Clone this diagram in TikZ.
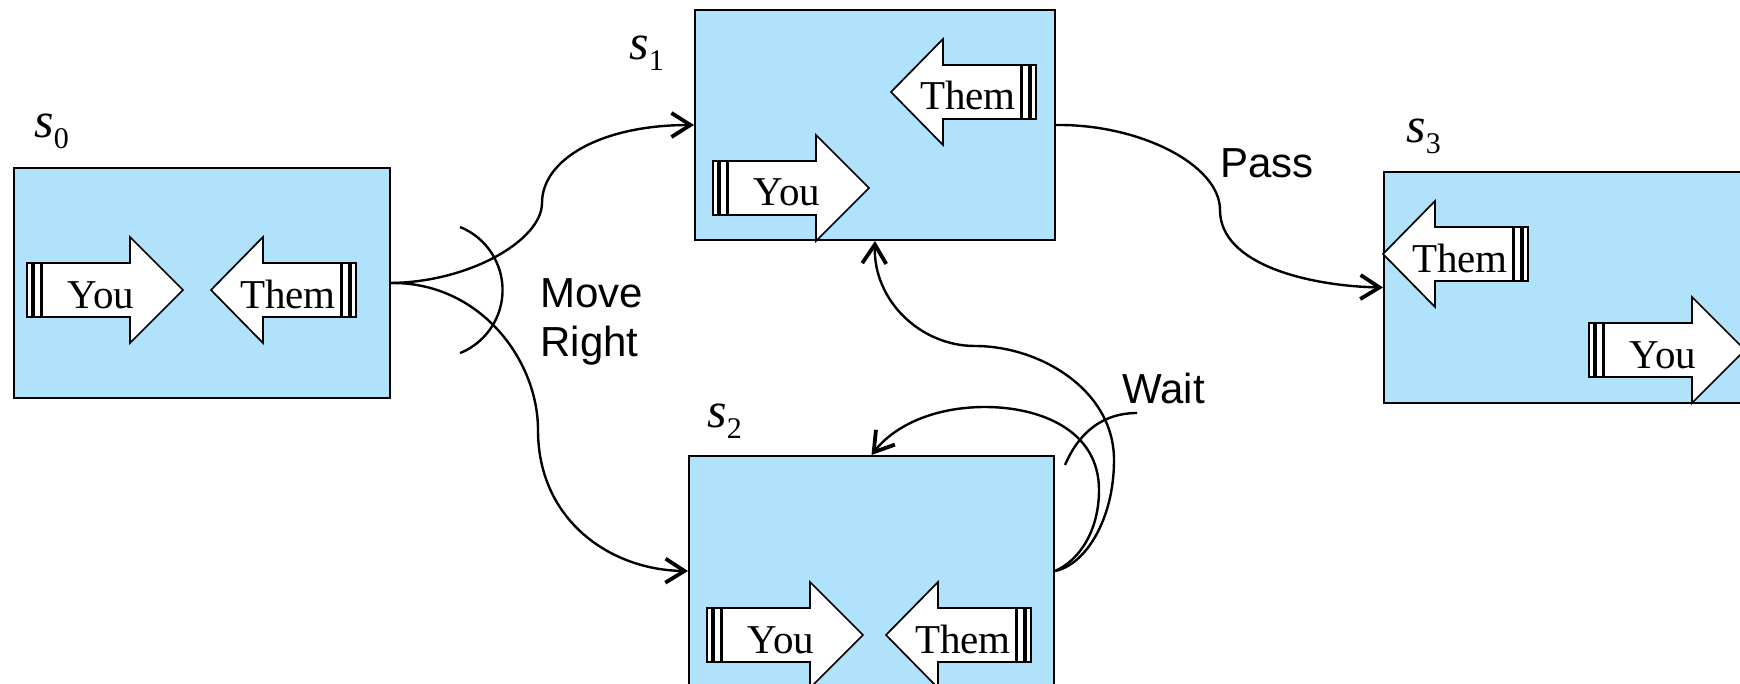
\documentclass[tikz,border=0pt]{standalone}
\usepackage{fontspec}
\setmainfont{Liberation Serif}
\setsansfont{Liberation Sans}
\usetikzlibrary{arrows.meta}

\definecolor{statefill}{RGB}{176,226,252}

\tikzset{
  % right-pointing "You" token, tip at the pic origin
  pics/you/.style={code={
    \draw[tokenbody] (0,0) -- (-53,53) -- (-53,27) -- (-141,27) -- (-141,-27)
      -- (-53,-27) -- (-53,-53) -- cycle;
    \draw[tokenbar] (-156,-27) rectangle (-151,27);
    \draw[tokenbar] (-149,-27) rectangle (-142,27);
    \node[tokentext] (-label) at (-82,18) {You};
  }},
  % left-pointing "Them" token, tip at the pic origin
  pics/them/.style={code={
    \draw[tokenbody] (0,0) -- (52,53) -- (52,27) -- (130,27) -- (130,-27)
      -- (52,-27) -- (52,-53) -- cycle;
    \draw[tokenbar] (131,-27) rectangle (138,27);
    \draw[tokenbar] (140,-27) rectangle (145,27);
    \node[tokentext] (-label) at (77,18) {Them};
  }},
}

\newcommand{\statename}[1]{s\raisebox{-5.5pt}{\upshape\fontsize{15}{16}\selectfont #1}}

\begin{document}
\begin{tikzpicture}[x=0.5pt,y=-0.5pt,
  statebox/.style={draw=black, line width=1pt, fill=statefill, rectangle,
    inner sep=0pt, anchor=north west, minimum height=115pt},
  tokenbody/.style={draw=black, line width=0.85pt, fill=white, line join=miter},
  tokenbar/.style={draw=black, line width=0.65pt, fill=white},
  tokentext/.style={font=\fontsize{20.5}{22}\selectfont, anchor=base, inner sep=0pt},
  statelabel/.style={font=\fontsize{25}{26}\selectfont\itshape, anchor=base west, inner sep=0pt},
  edgelabel/.style={font=\sffamily\fontsize{21}{24}\selectfont, anchor=base west, inner sep=0pt},
  transition/.style={draw=black, line width=1.2pt,
    -{Straight Barb[length=9.5pt,width=12pt,line width=1.9pt]}},
  bracket/.style={draw=black, line width=1.2pt},
]
\clip (0,0) rectangle (1740,684);

% states
\node[statebox, minimum width=188pt] (s0) at (13,167) {};
\node[statebox, minimum width=180pt] (s1) at (694,9) {};
\node[statebox, minimum width=182.5pt] (s2) at (688,455) {};
\node[statebox, minimum width=180pt, minimum height=115.5pt] (s3) at (1383,171) {};

% state names
\node[statelabel] (l0) at (34,138) {\statename{0}};
\node[statelabel] (l1) at (629,60) {\statename{1}};
\node[statelabel] (l2) at (707,427) {\statename{2}};
\node[statelabel] (l3) at (1406,143) {\statename{3}};

% tokens inside the states
\pic (y0) at (183,290) {you};
\pic (t0) at (211,290) {them};
\pic (t1) at (891,92) {them};
\pic (y1) at (869,188) {you};
\pic (y2) at (863,635) {you};
\pic (t2) at (886,635) {them};
\pic (t3) at (1383,254) {them};
\pic (y3) at (1745,350) {you};

% Move Right
\draw[transition] (s0.east) .. controls (470,282) and (542,240) .. (542,203)
  .. controls (542,160) and (600,125) .. (s1.west);
\draw[transition] (s0.east) .. controls (480,282) and (538,360) .. (538,430)
  .. controls (538,520) and (610,570) .. (s2.west);
\coordinate (mr) at (460,227);
\draw[bracket] (mr) arc[start angle=-68, end angle=68, radius=68];
\node[edgelabel] (mv1) at (540,307) {Move};
\node[edgelabel] (mv2) at (540,357) {Right};

% Pass
\draw[transition] (s1.east) .. controls (1140,124) and (1220,165) .. (1220,210)
  .. controls (1220,265) and (1310,286) .. (s3.west);
\node[edgelabel] (pass) at (1220,178) {Pass};

% Wait
\draw[transition] (s2.east) .. controls (1085,565) and (1114,520) .. (1114,460)
  .. controls (1114,390) and (1040,346) .. (975,346)
  .. controls (920,346) and (873,300) .. (s1.south);
\draw[transition] (s2.east) .. controls (1080,560) and (1099,530) .. (1099,490)
  .. controls (1099,430) and (1040,407) .. (985,407)
  .. controls (935,407) and (895,425) .. (s2.north);
\coordinate (wt) at (1065,465);
\draw[bracket] (wt) .. controls (1080,430) and (1105,413) .. (1137,413);
\node[edgelabel] (wait) at (1122,403) {Wait};
\end{tikzpicture}
\end{document}
